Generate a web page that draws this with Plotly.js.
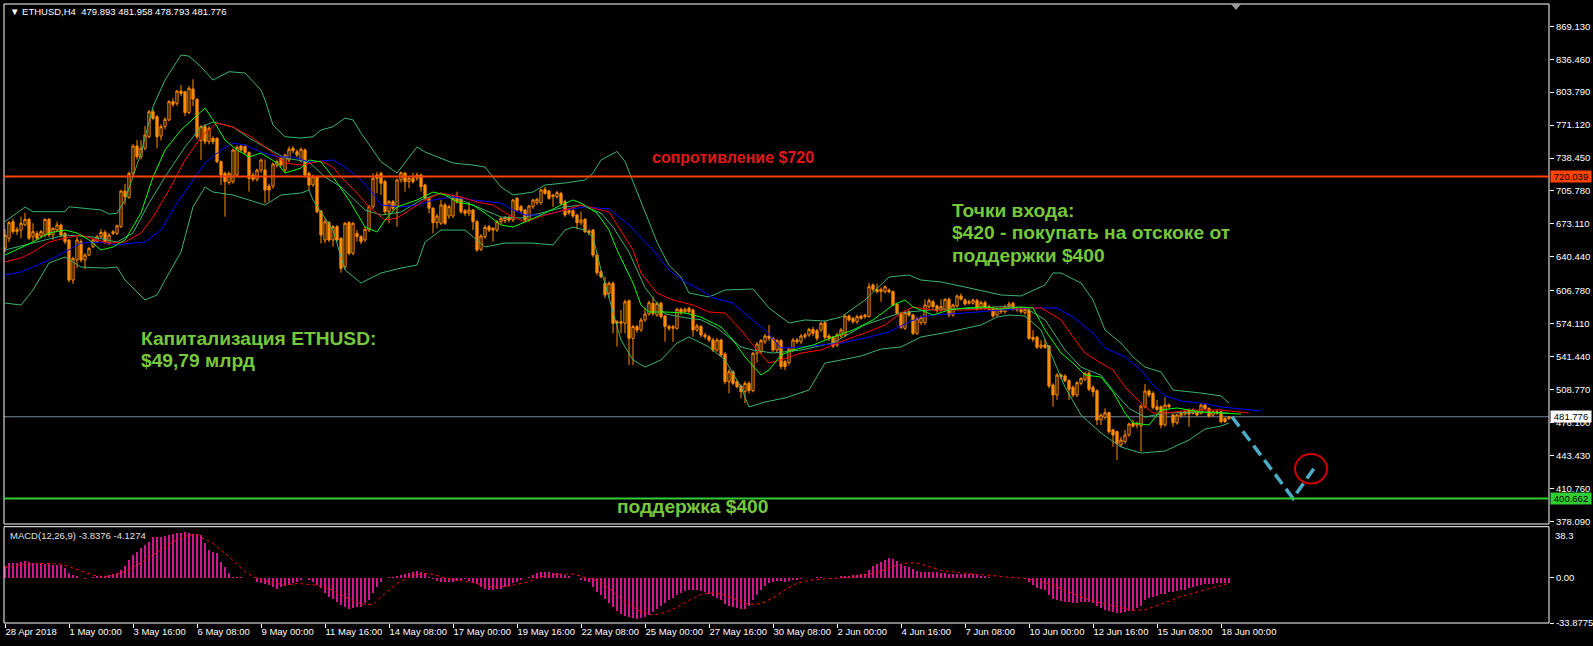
<!DOCTYPE html>
<html><head><meta charset="utf-8">
<script src="https://cdn.plot.ly/plotly-3.0.1.min.js"></script>
<style>html,body{margin:0;padding:0;background:#000;}#chart{width:1593px;height:646px;}</style>
</head><body><div id="chart"></div>
<script>
// ---------- DATA ----------
const symbol = 'ETHUSD,H4';
const lastOHLC = ['479.893','481.958','478.793','481.776'];
const macdLabel = 'MACD(12,26,9) -3.8376 -4.1274';

const openP = [
649,658.8,675.3,665.4,667,672,677.6,660.4,663.7,661.1,
662.1,677.6,662.1,667,672,663.7,657.1,617.4,637.3,655.5,
637.3,642.2,650.5,655.5,660.4,664.7,654.5,663.7,663.7,670.4,
705.7,699.4,723.3,750.4,739.8,748.1,759.6,784.4,779.5,760.3,
769.6,776.2,794.4,792.7,804.9,804.3,783.5,807,796.7,756,
769.6,754.7,758,758,734.8,723.3,714,715,721.6,750.4,
749.8,743.8,721.6,717.3,726.6,726.6,710.7,710.7,731.5,738.1,
726.6,736.5,748.1,744.8,736.5,746.4,723.3,711.7,720,685.9,
657.1,674.3,657.1,670.4,658.8,630.7,674.3,643.9,663.7,660.4,
657.1,667,690.2,721.6,723.3,715,685.2,695.2,689.6,716.7,
723.3,715,718.3,718.3,721.6,711.7,698.5,688.6,674.3,673.7,
691.9,680.9,680.9,698.5,698.5,686.2,683.6,686.9,675.3,647.9,
660.4,670.4,668.7,667,675.3,676.3,679.6,677,698.5,690.2,
686.9,677,690.2,694.2,694.2,707.4,705.7,700.1,700.1,703.4,
695.2,686.2,686.2,681.9,674.3,677.6,666.1,667,642.3,625.7,
614.2,604.2,614.2,576.1,574.5,574.5,596.9,559.6,571.2,567.9,
577.8,583.7,594.3,582.7,594.3,581.7,571.2,569.5,569.5,588.4,
586,589.3,587.7,567.9,571.2,562.9,561.2,557.9,548,557.9,
544,516.6,526.5,516.6,512.3,506.7,514.9,507.7,544.7,546.4,
556.2,561.9,559.6,548,557.3,536.4,535.4,548,557.9,556.2,
561.2,562.9,568.5,567.2,567.9,575.1,561.9,560.6,552.9,561.9,
562.9,581.7,579.4,576.1,581.7,581.1,581.1,612.5,608.2,605.9,
605.9,607.5,605.9,593.6,584.4,569.5,586,582.7,564.5,575.1,
575.1,591,596,591.7,587.7,588.4,598.3,582.7,591.7,601.6,
597.6,594.3,594.3,597,589.3,595,591,589.3,582.7,588.4,
586,591,594.3,589.3,588.4,585,587.7,560.6,560.6,550.7,
553,552,513.3,503.4,523.2,522.2,517.6,511,503.4,514.9,
518.9,524.9,511,507.7,478.6,481.2,485.8,468.6,467,453.8,
457.1,463.7,475.3,473.6,472.6,491.8,507.3,505,491.8,491.8,
473.6,493.4,483.5,475.9,482.5,484.5,488.5,485.2,486.8,485.2,
493.4,490.1,483.5,486.8,486.8,480.2,479.893];

const closeP = [
662,674.3,665.4,667.7,673.7,677.6,658.8,665.4,658.8,665.4,
677.6,662.1,668.7,672,662.1,655.5,617.4,638.9,657.1,637.3,
642.2,648.9,657.1,660.4,664.7,655.5,662.1,665.4,671.3,705.7,
700.1,723.3,750.4,739.8,748.1,761.3,784.4,777.8,759.6,769.6,
776.8,794.4,791.7,804.9,802.6,783.5,807.6,797,759.6,769.6,
754.7,767.9,754.7,734.8,721.6,715,723.3,746.4,749.1,746.4,
743.8,718.3,717.3,726.6,736.5,706.7,706.7,732.5,734.8,731.5,
741.4,747.1,745.8,741.4,747.1,721.6,711.7,720,685.2,662.1,
675.3,657.1,670.4,657.1,629,673.7,643.9,673.7,660.4,655.5,
667.7,690.2,718.3,718.3,713.4,685.2,695.2,688.6,716.7,723.9,
715,718.3,715,721.6,710,698.5,688.6,674.3,680.9,691.9,
673.7,690.2,698.5,695.2,685.2,683.6,686.9,675.3,647.2,661.1,
669.7,667,667,675.3,678.6,679.6,677,696.8,686.9,686.2,
677,690.9,696.8,697.5,706.7,703.4,698.5,701.8,704.1,693.5,
681.9,684.2,680.9,674.3,677,665.4,664.4,642.3,624.7,620.7,
602.6,614.2,574.5,574.5,576.1,595.9,559.6,571.2,567.9,577.8,
583.7,594.9,584.4,594.3,581.1,571.2,569.5,571.2,588.4,585,
588.4,586,567.9,571.8,562.9,561.2,557.9,548,557.9,543,
516.6,526.5,514.9,511.6,506.7,514.9,507.7,544.7,553.9,557.3,
561.9,559.6,548,557.3,531.5,531.5,548.7,557.9,556.2,561.9,
562.9,568.5,564.6,559.6,574.5,560.6,559.6,551.9,562.9,567.9,
581.7,577.8,576.1,581.1,579.4,582.7,610.8,608.2,605.9,608.2,
610.8,605.9,592.6,584.4,570.5,585,582.7,564.5,579.4,580.4,
592.7,597,591,587,591,598.3,582.7,592.7,601.6,598.3,
593.6,596,597.6,588.4,595,589.3,588.4,581.7,588.4,586,
591,593.6,588.4,587.7,586,588.4,559.6,558.6,550.7,553,
550.7,512.3,503.4,523.2,521.5,517.6,509,503.4,515.6,519.9,
524.9,509,506.7,478.6,483.5,485.8,467,463.7,455.4,458.7,
463.7,474.6,472.6,475.3,492.4,507.3,503.4,491.1,489.1,473.6,
493.4,491.8,475.9,483.5,485.2,486.8,484.5,488.5,483.5,493.4,
490.1,482.5,486.8,485.2,476.9,476.9,481.776];

const highP = [
668,676,678,670,680.3,684.2,679,673.7,666,667,
678.6,679,670,675.3,673.5,665,658,640.6,660.4,658,
644,650,658.5,662,668,667,664,667,672.5,707,
713,725,752,756.3,756,770.2,786,787,781,772,
779,796,797.7,806,810.9,805,810,816.6,798,771,
772,770,760,759,736,725,725,748,751,752,
752,745,724,728,738,737,713,734,737,740,
743,750,750,747,749,748,725,722,721,687,
678.6,676,672,672,660,675,676,675,667,662,
670,692,723.3,724.9,725,717,697,697,718,725,
725,720,723.9,723.9,723,713,700,690,683,696.8,
694,692,701.8,705.1,700,688,695.2,688,677,663,
672,672,670,677,680,681,681,698,700,692,
688,692,698,699,708,710,707,703,706,705,
697,688,688,683,685.2,679,668,668,644,627,
620.8,616,616,578,587.7,598,598,573,573,580,
589.3,597,601,596,596,583,573,573,590,590,
590,591,589,574,573,565,563,560,560,559,
546,529,528,518,514,517,517,546,556,559,
564,572.8,561,559,559,538,550,560,560,564,
565,570,571,569,576,577,564,562,565,570,
583,583,581,583,583,584,614.8,614.2,613.8,610,
612,609,607,595,586,587,588,584,581,582,
598.3,599.3,598,593,598.3,599.3,600,594,603,604.2,
599.3,598,599,599,597,597,593,591,590,590,
593,596,596,591,590,590,589,567.9,562,557.9,
558.6,553,515,525,524.9,524,519,513,517,521,
526,527,513,509,485,490.1,487,470,468,462,
468.6,476,478.6,477,494,514.3,509,507,498.4,493,
501.1,495,485,485,487,488,490,490,488,495.1,
495,491,488,489.2,488,481,481.958];

const lowP = [
645,655,663,662,658.8,671,657,655.5,657,659,
660,660,657.1,666,660,653,615,613.5,629,635,
628,641,649,654,659,653,652,662,662,669,
692,698,721,737,737,746,758,776,748.1,756,
767,775,789,790,800,780,782,790,757,736.5,
752,752,752,733.2,711.7,680.3,712,713,720,744,
742,705.1,715,715,724,693.5,695.2,708,729,729,
724,734,743,739,734,719,706.7,710,683.6,653.8,
653.8,655,650.5,655,624.7,628,642,642,655.5,653,
655,665,688,703.4,701.8,683,673.7,686,670.4,714,
705.1,708.4,713,716,705.1,696,683.6,663.7,668.7,672,
672,678,679,693,683,681,681,667,645.5,646,
658,665,655.5,665,673,674,675,675,685,684,
675,675,688,692,692,702,697,690.2,698,692,
680,682,679,667.7,672,664,662,640,622,619,
599.3,599.3,564.6,551.3,564.6,564.6,533.1,533.1,565,566,
576,582,582,581,579,556.2,567,556.2,568,583,
584,584,561.2,566,560.6,559,556,546,546,541,
514,505,513,510,500.1,495.1,505,506,535.4,544,
554,557,546,546,529,528,533,546,554,554,
559,561,562,557,566,558,557,550,551,560,
561,576,574,574,578,579,580,606,604,595.9,
604,604,591,583,569,568,581,563,563,573,
573,589,589,585,586,587,580.4,581,590,597,
592,593,593,587,588,588,587,580,581,584,
584,589,587,586,584,583,558,556,549,549,
549,510,491.8,498.4,519,516,498.4,501,501,513,
517,507,501.7,473.6,473.6,479,465,452.1,438.9,452,
455,462,471,470.3,447.2,490,501,489,487,470.3,
472,490,471.9,474,481,483,471.9,484,482,484,
488,481,482,484,475.3,475.5,478.793];

// Bollinger bands (sampled along the drawn lines: bar index, price)
const bbUpperX = [0,5,7,15,16,19,24,26,28,30,34,37,40,44,46,49,52,56,60,64,65,67,70,74,77,79,82,85,87,89,94,98,103,105,112,117,120,124,127,132,135,140,145,147,149,153,155,157,160,163,166,169,171,176,180,187,191,196,200,205,209,215,221,226,229,234,240,245,249,254,256,260,262,264,269,272,275,279,282,285,289,292,299,304,306];
const bbUpperY = [675.3,689.9,685.2,685.2,690.1,688.9,686.9,682.9,683.6,696.8,743.4,789.4,815.8,840.6,839.6,829.0,815.8,824.1,822.8,805.9,796.0,771.2,759.6,758.3,759.6,766.2,769.5,778.1,776.2,763.3,734.8,723.6,749.4,744.4,733.5,731.5,729.5,709.7,701.8,704.7,711.7,713.7,716.6,723.6,736.5,745.0,735.0,715.0,685.0,655.0,632.0,620.4,604.5,600.6,607.5,608.5,589.7,574.8,577.8,576.8,580.7,597.6,620.4,622.4,617.4,615.5,610.5,606.5,602.6,601.6,605.5,612.5,624.4,624.4,614.5,597.6,567.8,555.0,541.1,531.1,526.2,508.3,505.3,502.4,495.4];
const bbMidX = [0,7,15,22,28,32,36,40,45,49,52,57,61,65,70,76,80,84,90,94,99,104,109,114,118,124,129,134,140,144,149,152,156,160,165,170,174,178,184,187,192,199,207,215,224,232,240,249,255,260,265,269,274,277,281,285,290,299,306];
const bbMidY = [647.2,654.1,662.1,660.1,655.1,664.1,693.8,719.6,749.4,769.2,774.2,769.2,758.3,749.4,738.5,734.5,719.6,709.7,686.9,681.9,684.9,696.8,703.7,696.8,689.9,679.9,678.9,683.9,689.9,691.8,683.9,670.0,645.0,610.0,584.0,580.0,578.0,570.0,551.0,548.0,545.0,548.0,555.0,573.0,585.0,588.0,589.0,591.0,590.0,578.0,548.0,531.0,523.0,508.0,490.0,481.5,485.5,486.5,485.5];
const bbLowerX = [0,4,7,11,15,19,25,28,30,35,38,40,44,47,50,52,57,61,65,69,74,76,77,82,85,89,94,99,103,105,109,115,118,120,125,132,137,140,142,145,147,149,154,157,160,164,168,171,176,180,184,186,190,195,201,205,209,214,219,224,229,236,244,248,251,255,259,265,269,274,279,284,290,296,300,304,306];
const bbLowerY = [594.6,592.6,607.5,634.3,640.3,630.3,629.3,630.3,617.4,597.6,602.6,617.4,645.2,689.9,709.7,704.7,701.8,696.8,691.8,701.8,703.7,706.7,696.8,667.0,627.4,614.5,624.4,629.3,632.3,655.1,667.0,667.0,657.1,650.2,654.1,654.1,652.2,667.0,670.0,667.0,660.1,627.4,557.9,538.1,531.1,538.1,554.9,560.9,551.0,538.1,511.3,491.5,496.4,500.4,508.3,535.1,538.1,542.0,549.0,551.0,560.9,565.9,572.8,580.7,582.7,581.7,567.8,511.3,483.5,465.7,451.8,445.8,447.8,458.7,469.6,472.6,475.6];

// Alligator lines (shifted forward past the last bar)
const lipsX = [0,4,7,11,15,18,21,24,27,30,34,37,40,44,48,50,52,55,58,61,64,68,70,74,76,79,82,86,90,93,95,98,103,107,110,113,117,120,124,127,130,134,139,142,144,148,151,153,157,159,161,165,170,174,179,182,185,189,191,194,197,202,207,212,217,222,225,227,229,232,236,240,245,249,254,257,260,264,267,270,274,277,280,282,286,289,293,299,304,309];
const lipsY = [642.2,649.2,655.1,664.1,667.0,664.1,657.1,647.2,650.2,657.1,683.9,719.6,746.4,766.2,781.1,788.1,776.2,756.3,746.4,739.5,743.4,733.5,723.6,728.5,736.5,734.5,719.6,696.8,670.0,665.1,677.0,689.9,696.8,704.7,701.8,694.8,691.8,683.9,672.0,670.0,675.0,681.9,691.8,696.8,693.8,683.9,667.0,647.2,614.5,592.6,585.7,585.7,584.7,580.7,570.8,557.9,541.1,523.2,528.2,543.0,548.0,552.9,560.9,567.8,577.8,592.6,597.6,590.7,587.7,582.7,587.7,589.7,590.7,588.7,590.7,589.7,567.8,545.0,535.1,523.2,521.2,506.3,485.5,475.6,473.6,488.5,490.5,486.5,485.5,484.5];
const teethX = [0,4,7,11,15,19,23,26,30,34,37,41,45,49,53,57,62,67,70,74,79,82,84,88,91,95,98,101,105,109,114,118,122,126,130,135,140,144,147,151,157,159,163,167,172,176,180,184,188,191,194,199,204,210,215,220,224,227,232,240,249,259,260,264,267,270,274,277,280,284,287,290,297,304,311];
const teethY = [635.3,639.3,645.2,655.1,659.1,662.1,657.1,654.1,655.1,664.1,679.9,706.7,736.5,759.3,773.2,769.2,758.3,743.4,733.5,731.5,735.5,729.5,719.6,703.7,689.9,677.0,678.9,686.9,696.8,703.7,699.8,694.8,691.8,681.9,675.0,681.9,686.9,691.8,688.9,684.9,647.2,624.4,604.5,597.6,592.6,585.7,584.7,567.8,548.0,535.1,538.1,545.0,548.0,557.9,564.9,572.8,584.7,590.7,587.7,587.7,589.7,589.7,587.7,577.8,560.9,545.0,535.1,528.2,511.3,495.4,485.5,485.5,488.5,488.5,485.5];
const jawX = [0,4,7,11,15,19,24,28,32,35,39,43,47,50,54,57,60,64,68,72,76,82,85,89,92,94,99,103,107,112,117,124,127,130,135,140,145,151,156,162,166,170,174,177,182,186,190,194,199,204,209,215,221,226,229,232,240,249,257,263,267,272,275,280,284,287,290,294,299,304,314];
const jawY = [622.4,625.4,630.3,637.3,645.2,654.1,655.1,652.2,654.1,655.1,667.0,693.8,716.6,733.5,746.4,753.3,751.4,744.4,739.5,739.5,734.5,736.5,729.5,716.6,703.7,691.8,689.9,691.8,696.8,699.8,696.8,693.8,686.9,681.9,681.9,686.9,689.9,687.9,672.0,647.2,627.4,615.5,607.5,599.6,594.6,580.7,567.8,550.0,551.0,552.9,554.9,559.9,565.9,575.8,580.7,582.7,584.7,587.7,589.7,589.7,580.7,564.9,550.0,541.1,528.2,513.3,502.4,497.4,495.4,491.5,487.5];

// MACD histogram (one value per bar) and signal line samples
const macdHist = [
8.7,10.8,11.3,11.3,12.0,12.7,12.0,11.3,11.3,10.8,
10.0,10.0,9.5,9.5,9.5,7.0,3.3,1.8,1.2,-0.5,
-1.0,-0.5,0.7,1.2,1.2,1.5,2.0,2.5,3.3,6.2,
8.7,13.2,17.0,19.5,22.0,24.5,27.0,30.3,30.8,30.8,
31.3,31.8,32.8,33.3,33.8,34.3,33.8,32.8,32.5,32.3,
25.8,20.8,19.5,18.3,12.0,8.3,3.3,0.7,0.7,0.7,
0.0,-0.5,-0.5,-3.0,-4.2,-4.7,-5.5,-7.2,-8.2,-7.2,
-6.2,-5.5,-4.2,-3.0,-1.7,-0.5,-1.7,-3.0,-5.5,-8.0,
-11.2,-14.2,-16.2,-18.0,-20.5,-22.2,-23.2,-23.0,-22.2,-21.7,
-19.2,-16.7,-11.7,-6.7,-3.0,-0.5,0.7,0.7,1.2,2.0,
2.8,3.8,4.5,5.0,4.5,3.3,0.7,-1.2,-2.2,-3.0,
-3.0,-3.0,-3.0,-2.2,-1.7,-1.2,-2.2,-3.7,-4.7,-7.2,
-8.7,-9.2,-9.2,-8.7,-8.2,-7.2,-6.2,-4.2,-3.0,-1.7,
-0.5,0.7,2.0,3.3,4.0,4.3,4.3,3.8,3.3,2.8,
2.0,1.2,0.2,-0.5,-1.7,-2.2,-3.0,-6.7,-10.5,-13,
-16,-19,-22,-25,-27,-28.5,-29.5,-30.5,-31,-30.5,
-29.5,-28,-26,-23.5,-21,-19,-17,-15,-13,-11.5,
-10,-9,-9,-9.5,-10,-11,-12,-13.5,-15,-17,
-19.5,-21,-22,-23,-23.5,-23.5,-21,-17,-13,-9,
-6,-4,-3,-2.5,-2.5,-3,-2.5,-2,-1.5,-1,
-0.5,-0.5,0,0.5,0.5,0,-0.5,-0.5,0,1,
1.5,1.5,2,2,2.5,3,6,8.5,10.5,12,
13.5,14.5,14,12.5,10.5,9,8,6.5,5,4,
4,4.5,4.5,4,3.5,3.5,3,2.5,3,3,
3,2.5,2.5,2,1.5,1,0.5,0,-0.5,-0.5,
-0.5,0,0,-0.5,-0.5,-1,-3.5,-5.5,-7.5,-8.5,
-9.5,-13,-16,-17,-17.5,-18,-18.5,-19,-19,-18.5,
-18,-18.5,-19,-21.5,-23,-24,-25,-26,-26.5,-26.5,
-26,-25,-24,-23,-21.5,-17,-15.5,-14.5,-13.5,-12.5,
-12,-11,-10.5,-10,-9.5,-9,-8,-7,-6,-5.5,
-5,-4.6,-4.3,-4.2,-4.2,-4.0,-3.84];
const signalX = [0,5,10,14,18,22,25,27,31,37,42,46,48,52,56,60,62,66,70,73,78,82,85,89,92,94,98,102,106,110,114,117,122,126,131,134,138,142,146,149,153,156,159,162,165,168,171,174,177,180,183,186,189,192,195,198,201,204,208,212,216,219,222,225,228,231,234,238,242,246,250,254,258,261,264,267,270,273,276,279,282,285,288,291,294,297,300,303,306];
const signalY = [7.8,10.0,10.8,10.3,6.3,2.0,0.75,1.7,5.8,17.0,27.0,32.0,32.0,25.8,15.8,4.5,0.75,-3.0,-5.5,-4.2,-5.5,-9.2,-14.2,-19.7,-20.0,-14.2,-4.2,2.0,3.3,-0.1,-2.2,-3.7,-7.2,-6.2,-3.0,0.75,2.8,2.8,-0.5,-3.0,-13,-20,-25.5,-28,-26,-22,-17,-12.5,-11,-13,-16.5,-20,-19.5,-15,-9,-4,-2,-1,-0.3,0.5,2.5,5,8.5,11,11,8.5,5.5,4,3,2,0.5,-0.3,-2,-4.5,-8,-12,-15.5,-18,-20,-22.5,-24.5,-24,-21,-17.5,-14,-11.5,-9,-6.5,-4.13];

// Levels and forecast drawing
const resistance = 720.039;
const support = 400.662;
const lastPrice = 481.776;
const forecastX = [306.75, 322, 327.5];
const forecastY = [481.776, 400.9, 432];

// Axis ticks
const timeTickIdx = [0,16,32,48,64,80,96,112,128,144,160,176,192,208,224,240,256,272,288,304];
const timeTickText = ['28 Apr 2018','1 May 00:00','3 May 16:00','6 May 08:00','9 May 00:00','11 May 16:00','14 May 08:00','17 May 00:00','19 May 16:00','22 May 08:00','25 May 00:00','27 May 16:00','30 May 08:00','2 Jun 00:00','4 Jun 16:00','7 Jun 08:00','10 Jun 00:00','12 Jun 16:00','15 Jun 08:00','18 Jun 00:00'];
const priceTicks = [869.13,836.46,803.79,771.12,738.45,705.78,673.11,640.44,606.78,574.11,541.44,508.77,476.1,443.43,410.76,378.09];
const macdTicks = [0, -33.8775];
const macdTickText = ['0.00','-33.8775'];
const macdTop = 38.3;

// ---------- CHART ----------
const bars = openP.map((_, i) => i);
const ORANGE = '#FF8C00';
const BB = '#3CB371';
const AX = 'Liberation Sans, Arial, sans-serif';

const traces = [
  {type:'candlestick', x:bars, open:openP, high:highP, low:lowP, close:closeP, xaxis:'x', yaxis:'y',
   increasing:{line:{color:ORANGE, width:1}, fillcolor:'#000000'},
   decreasing:{line:{color:ORANGE, width:1}, fillcolor:ORANGE},
   whiskerwidth:0, hoverinfo:'skip'},
  {type:'scatter', mode:'lines', x:bbUpperX, y:bbUpperY, line:{color:BB, width:1}, hoverinfo:'skip'},
  {type:'scatter', mode:'lines', x:bbMidX, y:bbMidY, line:{color:BB, width:1}, hoverinfo:'skip'},
  {type:'scatter', mode:'lines', x:bbLowerX, y:bbLowerY, line:{color:BB, width:1}, hoverinfo:'skip'},
  {type:'scatter', mode:'lines', x:jawX, y:jawY, line:{color:'#0000FF', width:1}, hoverinfo:'skip'},
  {type:'scatter', mode:'lines', x:teethX, y:teethY, line:{color:'#FF0000', width:1}, hoverinfo:'skip'},
  {type:'scatter', mode:'lines', x:lipsX, y:lipsY, line:{color:'#00FF00', width:1}, hoverinfo:'skip'},
  {type:'scatter', mode:'lines', x:forecastX, y:forecastY, line:{color:'#4BACC6', width:3.5, dash:'12px,6px'}, hoverinfo:'skip'},
  {type:'bar', x:bars, y:macdHist, xaxis:'x', yaxis:'y2', width:0.72, marker:{color:'#D0168A', line:{width:0}}, hoverinfo:'skip'},
  {type:'scatter', mode:'lines', x:signalX, y:signalY, xaxis:'x', yaxis:'y2', line:{color:'#FF0000', width:1, dash:'dot'}, hoverinfo:'skip'}
];

const plotTop = 4, plotBottom = 623, plotH = plotBottom - plotTop, plotLeft = 4, plotW = 1545;
const py = p => (plotBottom - p) / plotH;   // pixel row -> paper y
const px = p => (p - plotLeft) / plotW;     // pixel col -> paper x
const priceDomain = [py(524), 1];
const macdDomain = [0, py(526.7)];

const GREEN_TXT = '#76C83A';
const GS = 19.2;
const bigFont = (c, s) => ({family:'Liberation Sans, Arial, sans-serif', size:s, color:c});

const layout = {
  width:1593, height:646,
  paper_bgcolor:'#000000', plot_bgcolor:'#000000',
  margin:{l:plotLeft, r:1593-1549, t:plotTop, b:646-plotBottom},
  showlegend:false, bargap:0,
  boxgap:0.2,
  font:{family:AX, size:9.5, color:'#FFFFFF'},
  xaxis:{range:[-0.25, 386], anchor:'y2', tickmode:'array', tickvals:timeTickIdx, ticktext:timeTickText,
         tickangle:0, ticks:'outside', ticklen:4, tickcolor:'#FFFFFF', ticklabelposition:'outside right',
         tickfont:{family:AX, size:9.5, color:'#FFFFFF'},
         showgrid:false, zeroline:false, showline:false, rangeslider:{visible:false}, fixedrange:true},
  yaxis:{domain:priceDomain, range:[375.4, 891.25], side:'right', anchor:'x',
         tickmode:'array', tickvals:priceTicks, ticktext:priceTicks.map(v => v.toFixed(3)),
         ticks:'outside', ticklen:4, tickcolor:'#FFFFFF', tickfont:{family:AX, size:9.5, color:'#FFFFFF'},
         showgrid:false, zeroline:false, showline:false, fixedrange:true},
  yaxis2:{domain:macdDomain, range:[-33.8775, 38.3], side:'right', anchor:'x',
         tickmode:'array', tickvals:macdTicks, ticktext:macdTickText,
         ticks:'outside', ticklen:4, tickcolor:'#FFFFFF', tickfont:{family:AX, size:9.5, color:'#FFFFFF'},
         showgrid:false, zeroline:false, showline:false, fixedrange:true},
  shapes:[
    {type:'rect', xref:'paper', yref:'paper', x0:0, x1:1, y0:priceDomain[0], y1:1, line:{color:'#FFFFFF', width:1}, layer:'above'},
    {type:'rect', xref:'paper', yref:'paper', x0:0, x1:1, y0:0, y1:macdDomain[1], line:{color:'#FFFFFF', width:1}, layer:'above'},
    {type:'line', xref:'paper', yref:'y', x0:0, x1:1, y0:resistance, y1:resistance, line:{color:'#FF4500', width:2}},
    {type:'line', xref:'paper', yref:'y', x0:0, x1:1, y0:support, y1:support, line:{color:'#32CD32', width:2}},
    {type:'line', xref:'paper', yref:'y', x0:0, x1:1, y0:lastPrice, y1:lastPrice, line:{color:'#778899', width:1}, layer:'below'},
    {type:'circle', xref:'x', yref:'y', x0:322.5, x1:330.5, y0:415.5, y1:444.8, line:{color:'#D00000', width:2}},
    {type:'path', xref:'paper', yref:'paper', path:`M ${px(1231)} 1 L ${px(1241)} 1 L ${px(1236)} ${py(10)} Z`, fillcolor:'#9A9A9A', line:{width:0}}
  ],
  annotations:[
    {xref:'paper', yref:'paper', x:px(8), y:py(12), xanchor:'left', yanchor:'middle', showarrow:false,
     text:'\u25BC\u00A0' + symbol + '\u00A0\u00A0' + lastOHLC.join(' '), font:{family:AX, size:9.5, color:'#FFFFFF'}},
    {xref:'paper', yref:'paper', x:px(8), y:py(535), xanchor:'left', yanchor:'middle', showarrow:false,
     text:macdLabel, font:{family:AX, size:9.5, color:'#E0E0E0'}},
    {xref:'paper', yref:'y2', x:1, y:macdTop, xanchor:'left', yanchor:'top', xshift:4, yshift:-1, showarrow:false,
     text:macdTop.toFixed(1), font:{family:AX, size:9.5, color:'#FFFFFF'}},
    {xref:'paper', yref:'y', x:1, y:resistance, xanchor:'left', yanchor:'middle', xshift:1, showarrow:false,
     text:resistance.toFixed(3), bgcolor:'#FF4500', width:40, height:11, borderpad:0, font:{family:AX, size:9.5, color:'#000000'}},
    {xref:'paper', yref:'y', x:1, y:lastPrice, xanchor:'left', yanchor:'middle', xshift:1, showarrow:false,
     text:lastPrice.toFixed(3), bgcolor:'#FFFFFF', width:40, height:11, borderpad:0, font:{family:AX, size:9.5, color:'#000000'}},
    {xref:'paper', yref:'y', x:1, y:support, xanchor:'left', yanchor:'middle', xshift:1, showarrow:false,
     text:support.toFixed(3), bgcolor:'#32CD32', width:40, height:11, borderpad:0, font:{family:AX, size:9.5, color:'#000000'}},
    {xref:'paper', yref:'paper', x:px(650), y:py(157.5), xanchor:'left', yanchor:'middle', showarrow:false,
     text:'<b>сопротивление $720</b>', font:bigFont('#E01818', 16)},
    {xref:'paper', yref:'paper', x:px(950), y:py(210), xanchor:'left', yanchor:'middle', showarrow:false,
     text:'<b>Точки входа:</b>', font:bigFont(GREEN_TXT, GS)},
    {xref:'paper', yref:'paper', x:px(950), y:py(232.5), xanchor:'left', yanchor:'middle', showarrow:false,
     text:'<b>$420 - покупать на отскоке от</b>', font:bigFont(GREEN_TXT, GS)},
    {xref:'paper', yref:'paper', x:px(950), y:py(255), xanchor:'left', yanchor:'middle', showarrow:false,
     text:'<b>поддержки $400</b>', font:bigFont(GREEN_TXT, GS)},
    {xref:'paper', yref:'paper', x:px(139), y:py(338), xanchor:'left', yanchor:'middle', showarrow:false,
     text:'<b>Капитализация ETHUSD:</b>', font:bigFont(GREEN_TXT, GS)},
    {xref:'paper', yref:'paper', x:px(139), y:py(361), xanchor:'left', yanchor:'middle', showarrow:false,
     text:'<b>$49,79 млрд</b>', font:bigFont(GREEN_TXT, GS)},
    {xref:'paper', yref:'paper', x:px(615), y:py(506), xanchor:'left', yanchor:'middle', showarrow:false,
     text:'<b>поддержка $400</b>', font:bigFont(GREEN_TXT, GS)}
  ]
};

Plotly.newPlot('chart', traces, layout, {displayModeBar:false, staticPlot:true});
</script>
</body></html>
